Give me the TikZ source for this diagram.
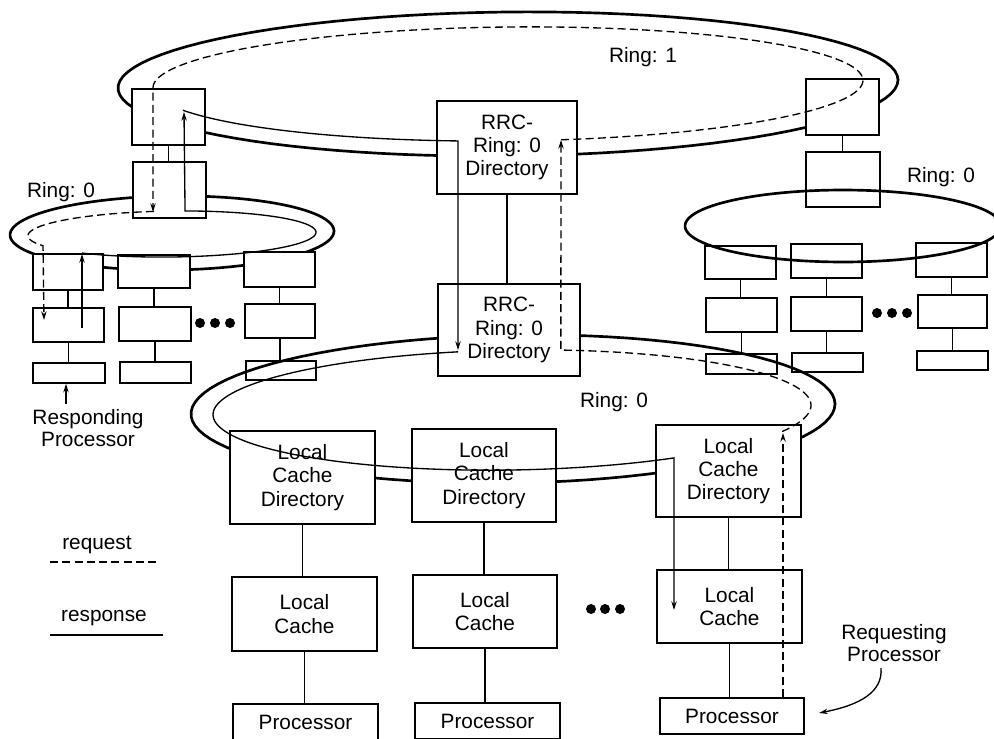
\documentclass[tikz,border=0pt]{standalone}
\usepackage{fontspec}
\setmainfont{Liberation Sans}
\usetikzlibrary{arrows.meta}
\newcommand\ellarc[7]{plot[domain=#6:#7,samples=100] ({#1+#3*cos(\x)},{#2+#4*sin(\x)-#5*#3*cos(\x)})}
\newcommand\bx[7]{\node[#1,minimum width={(#5-#3)*0.75pt},minimum height={(#6-#4)*0.75pt}] (#2) at ({(#3+#5)/2},{(#4+#6)/2}) {#7};}
\begin{document}
\begin{tikzpicture}[x=0.75pt,y=-0.75pt,
  every node/.style={font=\fontsize{15.6}{17.5}\selectfont},
  thickring/.style={line width=2pt},
  reqline/.style={line width=1pt,dash pattern=on 6pt off 3.2pt},
  resline/.style={line width=1pt},
  arrowed/.style={-{Stealth[length=6.5pt,width=4pt]}},
  fbox/.style={draw,line width=1.1pt,fill=white,inner sep=0pt,align=center},
  obox/.style={draw,line width=1.1pt,inner sep=0pt,align=center},
  conn/.style={line width=0.9pt},
  dot/.style={circle,fill,inner sep=0pt,minimum size=7.5pt}]
\useasboundingbox (0,0) rectangle (994,738);
% ---- outer (thick) rings
\draw[thickring] \ellarc{508}{84}{390}{72}{0.0103}{0}{360} -- cycle;
\draw[thickring] \ellarc{172}{233}{162}{37}{0.012}{0}{360} -- cycle;
\draw[thickring] \ellarc{513}{409}{322}{74}{0.0155}{0}{360} -- cycle;
\draw[thickring] \ellarc{843}{226}{158}{36}{0}{0}{360} -- cycle;
% ---- boxes that hide the rings
\bx{fbox}{r1l}{132}{89}{205}{145}{}
\bx{fbox}{r0lt}{133}{162}{206}{218}{}
\bx{fbox}{lc1}{33}{254}{103}{290}{}
\bx{fbox}{lc2}{118}{255}{190}{288}{}
\bx{fbox}{lc3}{244}{252}{315}{287}{}
\bx{fbox}{r1r}{806}{79}{879}{135}{}
\bx{fbox}{rrcA}{437}{101}{577}{194}{RRC-\\Ring: 0\\Directory}
\bx{fbox}{rrcB}{438}{284}{580}{376}{RRC-\\Ring: 0\\Directory}
\bx{fbox}{lcd1}{230}{431}{375}{524}{Local\\Cache\\Directory}
\bx{fbox}{lcd2}{412}{429}{556}{522}{Local\\Cache\\Directory}
\bx{fbox}{lcd3}{656}{425}{801}{517}{Local\\Cache\\Directory}
% ---- open boxes
\bx{obox}{ld1}{33}{308}{104}{342}{}
\bx{obox}{ld2}{119}{307}{191}{341}{}
\bx{obox}{ld3}{245}{304}{315}{338}{}
\bx{obox}{le1}{33}{363}{105}{383}{}
\bx{obox}{le2}{120}{362}{191}{383}{}
\bx{obox}{le3}{246}{361}{316}{380}{}
\bx{obox}{r0rt}{806}{152}{880}{207}{}
\bx{obox}{rh1}{705}{246}{776}{279}{}
\bx{obox}{rh2}{791}{244}{862}{278}{}
\bx{obox}{rh3}{916}{243}{987}{277}{}
\bx{obox}{ri1}{706}{298}{777}{332}{}
\bx{obox}{ri2}{791}{297}{862}{331}{}
\bx{obox}{ri3}{918}{295}{987}{328}{}
\bx{obox}{rj1}{706}{354}{777}{374}{}
\bx{obox}{rj2}{792}{353}{863}{372}{}
\bx{obox}{rj3}{917}{351}{988}{370}{}
\bx{obox}{lcc1}{232}{577}{377}{651}{Local\\Cache}
\bx{obox}{lcc2}{413}{575}{557}{648}{Local\\Cache}
\bx{obox}{lcc3}{657}{570}{802}{643}{Local\\Cache}
\bx{obox}{proc1}{233}{704}{378}{740}{Processor}
\bx{obox}{proc2}{415}{703}{560}{739}{Processor}
\bx{obox}{proc3}{660}{698}{804}{734}{Processor}
% ---- connectors between stacked boxes
\foreach \a/\b in {r1l/r0lt,rrcA/rrcB,r1r/r0rt,lc1/ld1,ld1/le1,lc2/ld2,ld2/le2,lc3/ld3,ld3/le3,
  rh1/ri1,ri1/rj1,rh2/ri2,ri2/rj2,rh3/ri3,ri3/rj3,lcd1/lcc1,lcc1/proc1,lcd2/lcc2,lcc2/proc2,lcd3/lcc3,lcc3/proc3}
  \draw[conn] (\a.south) -- (\a.south |- \b.north);
% ---- response path (solid)
\draw[resline,arrowed] (82,328) -- (82,254);
\draw[resline,arrowed] \ellarc{172}{234}{144}{23}{0.012}{128.7}{-84.8} -- (184,112);
\draw[resline,arrowed] \ellarc{508}{84}{355}{57}{0.0103}{156.3}{98.1} -- (458,350);
\draw[resline,arrowed] \ellarc{512}{410}{299}{60}{0.0155}{259.6}{57.2} -- (674,610);
% ---- request path (dashed)
\draw[reqline,arrowed] (783,697) -- (783,433);
\draw[reqline,arrowed] \ellarc{512}{410}{299}{60}{0.0155}{25.4}{-80.6} -- (561,140);
\draw[reqline,arrowed] \ellarc{508}{84}{355}{57}{0.0103}{81.4}{-180} -- (153,212);
\draw[reqline,arrowed] \ellarc{172}{234}{144}{23}{0.012}{262.8}{153.6} -- (44,320);
% ---- dots
\node[dot] (da1) at (200,323) {};
\node[dot] (da2) at (215,323) {};
\node[dot] (da3) at (230,323) {};
\node[dot] (db1) at (877,313) {};
\node[dot] (db2) at (892,313) {};
\node[dot] (db3) at (907,313) {};
\node[dot] (dc1) at (591,609) {};
\node[dot] (dc2) at (605,609) {};
\node[dot] (dc3) at (620,609) {};
% ---- ring labels
\node (ring1) at (643,57) {Ring: 1};
\node (ring0l) at (61,192) {Ring: 0};
\node (ring0r) at (941,177) {Ring: 0};
\node (ring0b) at (614,402) {Ring: 0};
% ---- processor labels
\node[align=center,font=\fontsize{15.6}{17}\selectfont] (resp) at (88,428) {Responding\\Processor};
\coordinate (respfrom) at (66,404);
\draw[resline,arrowed] (respfrom) -- (respfrom |- le1.south);
\node[align=center,font=\fontsize{15.6}{17}\selectfont] (reqp) at (894,643) {Requesting\\Processor};
\coordinate (reqfrom) at (881,668);
\coordinate (reqto) at (819,713);
\draw[resline,arrowed] (reqfrom) .. controls (883,692) and (860,705) .. (reqto);
% ---- legend
\node (lreq) at (97,545) {request};
\coordinate (lq1) at (50,562);
\coordinate (lq2) at (160,562);
\draw[reqline] (lq1) -- (lq2);
\node (lres) at (104,618) {response};
\coordinate (ls1) at (50,635);
\coordinate (ls2) at (163,635);
\draw[resline] (ls1) -- (ls2);
\end{tikzpicture}
\end{document}
